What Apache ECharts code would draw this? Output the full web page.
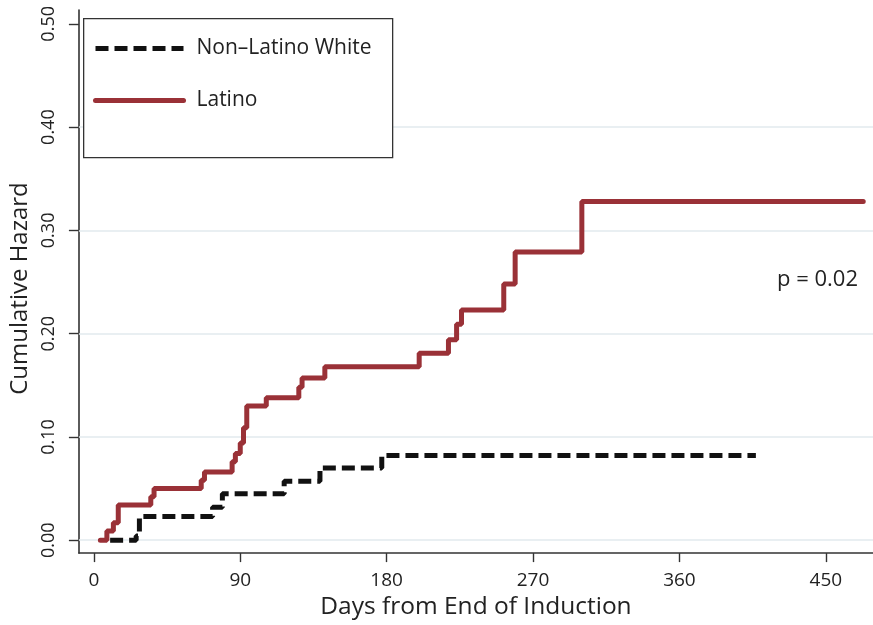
<!DOCTYPE html>
<html><head><meta charset="utf-8">
<script src="https://cdn.jsdelivr.net/npm/echarts@6/dist/echarts.min.js"></script>
<style>html,body{margin:0;padding:0;background:#fff}#c{width:873px;height:625px}</style>
</head><body><div id="c"></div>
<script>
// Latino cumulative hazard (day, value)
const latinoDays   = [4, 8, 12, 15, 35, 37, 66, 68, 85, 87, 90, 92, 94, 106, 126, 128, 142, 200, 218, 223, 226, 252, 259, 300, 473];
const latinoHazard = [0, 0.009, 0.017, 0.034, 0.042, 0.050, 0.058, 0.066, 0.076, 0.084, 0.094, 0.109, 0.130, 0.138, 0.148, 0.157, 0.168, 0.181, 0.194, 0.209, 0.223, 0.248, 0.279, 0.328, 0.328];
// Non-Latino White cumulative hazard
const whiteDays   = [10, 26, 28, 73, 79, 117, 139, 177, 407];
const whiteHazard = [0, 0.004, 0.023, 0.032, 0.045, 0.057, 0.070, 0.082, 0.082];
const xTicks = [0, 90, 180, 270, 360, 450];
const yTicks = [0, 0.1, 0.2, 0.3, 0.4, 0.5];
const yGridLines = [0, 0.1, 0.2, 0.3, 0.4];
const seriesNames = ['Non\u2013Latino White', 'Latino'];
const pText = 'p = 0.02';
const xTitle = 'Days from End of Induction';
const yTitle = 'Cumulative Hazard';

const sans = "'Open Sans','Noto Sans',sans-serif";
const chart = echarts.init(document.getElementById('c'), null, {renderer: 'canvas'});
const zip = (a, b) => a.map((d, i) => [d, b[i]]);
const whiteStyle = {color: '#111', width: 5, type: [13, 6]};
const latinoStyle = {color: '#9a3137', width: 5, cap: 'round'};

chart.setOption({
  animation: false,
  backgroundColor: '#ffffff',
  grid: {left: 77, right: 0, top: 10, bottom: 66, containLabel: false},
  xAxis: {
    type: 'value', min: -9.2, max: 479,
    name: xTitle, nameLocation: 'middle', nameGap: 37,
    nameTextStyle: {fontFamily: sans, fontSize: 24.5, color: '#222'},
    axisLine: {show: true, onZero: false, lineStyle: {color: '#333', width: 1.6}},
    axisTick: {show: true, length: 9, customValues: xTicks, lineStyle: {color: '#333', width: 1.4}},
    axisLabel: {customValues: xTicks, margin: 18, fontFamily: sans, fontSize: 19, color: '#222'},
    splitLine: {show: false}
  },
  yAxis: {
    type: 'value', min: -0.0125, max: 0.5134,
    name: yTitle, nameLocation: 'middle', nameGap: 43, nameRotate: 90,
    nameTextStyle: {fontFamily: sans, fontSize: 24, color: '#222', padding: [0, 14, 0, 0]},
    axisLine: {show: true, onZero: false, lineStyle: {color: '#333', width: 1.6}},
    axisTick: {show: true, length: 10, customValues: yTicks, lineStyle: {color: '#333', width: 1.4}},
    axisLabel: {customValues: yTicks, rotate: 90, margin: 21, fontFamily: sans, fontSize: 18, color: '#222',
      formatter: v => v.toFixed(2)},
    splitLine: {show: false}
  },
  legend: {
    show: true, orient: 'vertical', left: 93, top: 38, padding: 0, z: 20,
    itemWidth: 88, itemHeight: 21, itemGap: 31,
    itemStyle: {opacity: 0},
    data: [
      {name: seriesNames[0], lineStyle: whiteStyle, itemStyle: {opacity: 0}},
      {name: seriesNames[1], lineStyle: latinoStyle, itemStyle: {opacity: 0}}
    ],
    textStyle: {fontFamily: sans, fontSize: 21, color: '#222', padding: [0, 0, 0, 8]}
  },
  graphic: [
    {type: 'rect', left: 83, top: 18, z: 6, shape: {width: 309, height: 139},
     style: {fill: '#fff', stroke: '#333', lineWidth: 1.3}},
    {type: 'text', right: 15, top: 269, style: {text: pText, font: "22px 'Open Sans'", fill: '#222'}}
  ],
  series: [
    {name: seriesNames[0], type: 'line', step: 'end', symbol: 'none', z: 3,
     data: zip(whiteDays, whiteHazard),
     lineStyle: whiteStyle, itemStyle: {color: '#111'},
     markLine: {silent: true, symbol: 'none', z: 1, label: {show: false},
       lineStyle: {color: '#e2eaee', width: 1.5, type: 'solid'},
       emphasis: {disabled: true},
       data: yGridLines.map(v => ({yAxis: v}))}},
    {name: seriesNames[1], type: 'line', step: 'end', symbol: 'none', z: 2,
     data: zip(latinoDays, latinoHazard),
     lineStyle: latinoStyle, itemStyle: {color: '#9a3137'}}
  ]
});
</script></body></html>
